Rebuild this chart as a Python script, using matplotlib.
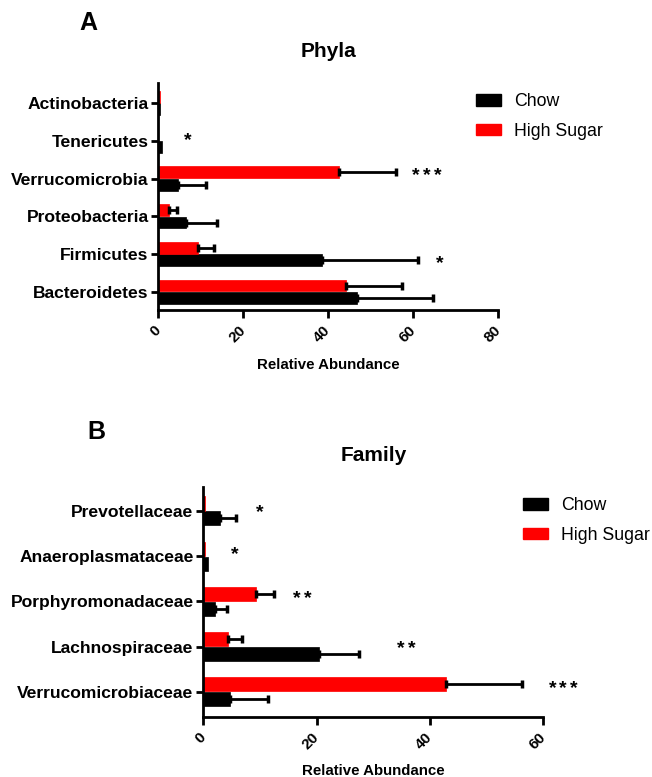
import matplotlib
matplotlib.use("Agg")
import matplotlib.pyplot as plt
import numpy as np
from matplotlib.patches import Patch

plt.rcParams['font.family'] = ['Liberation Sans', 'DejaVu Sans']

# ---- Panel A: phyla ----
phyla = ["Bacteroidetes", "Firmicutes", "Proteobacteria",
         "Verrucomicrobia", "Tenericutes", "Actinobacteria"]
phyla_chow = [46.7, 38.6, 6.4, 4.6, 0.8, 0.4]
phyla_chow_sd = [18.0, 22.6, 7.5, 6.6, 0.0, 0.0]
phyla_sugar = [44.2, 9.3, 2.6, 42.6, 0.0, 0.4]
phyla_sugar_sd = [13.1, 3.9, 1.9, 13.3, 0.0, 0.0]
phyla_sig = [("*", 6.9, 4.11), ("***", 63.1, 3.2), ("*", 66.3, 0.86)]
phyla_ticks = [0, 20, 40, 60, 80]

# ---- Panel B: families ----
families = ["Verrucomicrobiaceae", "Lachnospiraceae", "Porphyromonadaceae",
            "Anaeroplasmataceae", "Prevotellaceae"]
family_chow = [4.7, 20.4, 2.1, 0.9, 2.9]
family_chow_sd = [6.7, 7.1, 2.1, 0.0, 2.8]
family_sugar = [42.8, 4.4, 9.3, 0.3, 0.3]
family_sugar_sd = [13.5, 2.5, 3.1, 0.0, 0.0]
family_sig = [("***", 63.5, 0.17), ("**", 35.8, 1.04), ("**", 17.5, 2.15),
              ("*", 5.6, 3.12), ("*", 9.9, 4.05)]
family_ticks = [0, 20, 40, 60]

CHOW = "#000000"
SUGAR = "#FF0000"
BAR_H = 0.31
OFF = 0.165


def panel(ax, cats, chow, chow_sd, sugar, sugar_sd, sig, ticks, title, ylim):
    y = np.arange(len(cats))
    ax.barh(y - OFF, chow, height=BAR_H, color=CHOW, edgecolor=CHOW, linewidth=0.5)
    ax.barh(y + OFF, sugar, height=BAR_H, color=SUGAR, edgecolor=SUGAR, linewidth=0.5)
    ekw = dict(fmt="none", ecolor="black", elinewidth=2, capsize=2.6, capthick=2.5)
    for vals, sds, yy in ((chow, chow_sd, y - OFF), (sugar, sugar_sd, y + OFF)):
        for v, s, yi in zip(vals, sds, yy):
            if s > 0:
                ax.errorbar([v], [yi], xerr=[[0], [s]], **ekw)

    ax.set_xlim(ticks[0], ticks[-1])
    ax.set_ylim(*ylim)
    ax.set_xticks(ticks)
    ax.set_xticklabels([str(t) for t in ticks], rotation=45, ha="right",
                       va="center", rotation_mode="anchor",
                       fontsize=11, fontweight="bold")
    ax.set_yticks(y)
    ax.set_yticklabels(cats, fontsize=12.6, fontweight="bold")
    ax.tick_params(axis="x", length=6, width=2, pad=7)
    ax.tick_params(axis="y", length=5, width=2, pad=2)
    for side in ("top", "right"):
        ax.spines[side].set_visible(False)
    for side in ("left", "bottom"):
        ax.spines[side].set_linewidth(2)
    ax.set_xlabel("Relative Abundance", fontsize=10.8, fontweight="bold", labelpad=9)
    ax.set_title(title, fontsize=15, fontweight="bold", pad=19)

    # significance stars, drawn one glyph at a time
    fs = 14
    for text, xs, ys in sig:
        n = len(text)
        for i in range(n):
            dx = (i - (n - 1) / 2) * 7.8
            ax.annotate("*", (xs, ys), xytext=(dx, -0.45 * fs),
                        textcoords="offset points", ha="center", va="baseline",
                        fontsize=fs, fontweight="bold", annotation_clip=False)


fig = plt.figure(figsize=(6.52, 7.77), dpi=100)
W, H = 652.0, 777.0

axA = fig.add_axes([158.3 / W, 1 - 310 / H, 340 / W, 227 / H])
panel(axA, phyla, phyla_chow, phyla_chow_sd, phyla_sugar, phyla_sugar_sd,
      phyla_sig, phyla_ticks, "Phyla", (-0.48, 5.53))

axB = fig.add_axes([203.3 / W, 1 - 716.7 / H, 340 / W, 229.7 / H])
panel(axB, families, family_chow, family_chow_sd, family_sugar, family_sugar_sd,
      family_sig, family_ticks, "Family", (-0.55, 4.53))

handles = [Patch(facecolor=CHOW, edgecolor=CHOW), Patch(facecolor=SUGAR, edgecolor=SUGAR)]
labels = ["Chow", "High Sugar"]
leg_kw = dict(loc="upper left", frameon=False, fontsize=12.8, handlelength=1.4,
              handleheight=0.65, labelspacing=0.72, handletextpad=0.75)
fig.legend(handles, labels, bbox_to_anchor=(460 / W, 1 - 77 / H), **leg_kw)
fig.legend(handles, labels, bbox_to_anchor=(507 / W, 1 - 481 / H), **leg_kw)

fig.text(88 / W, 1 - 23 / H, "A", fontsize=18, fontweight="bold", ha="center", va="center")
fig.text(96 / W, 1 - 432 / H, "B", fontsize=18, fontweight="bold", ha="center", va="center")

fig.savefig("out.png", dpi=100)
